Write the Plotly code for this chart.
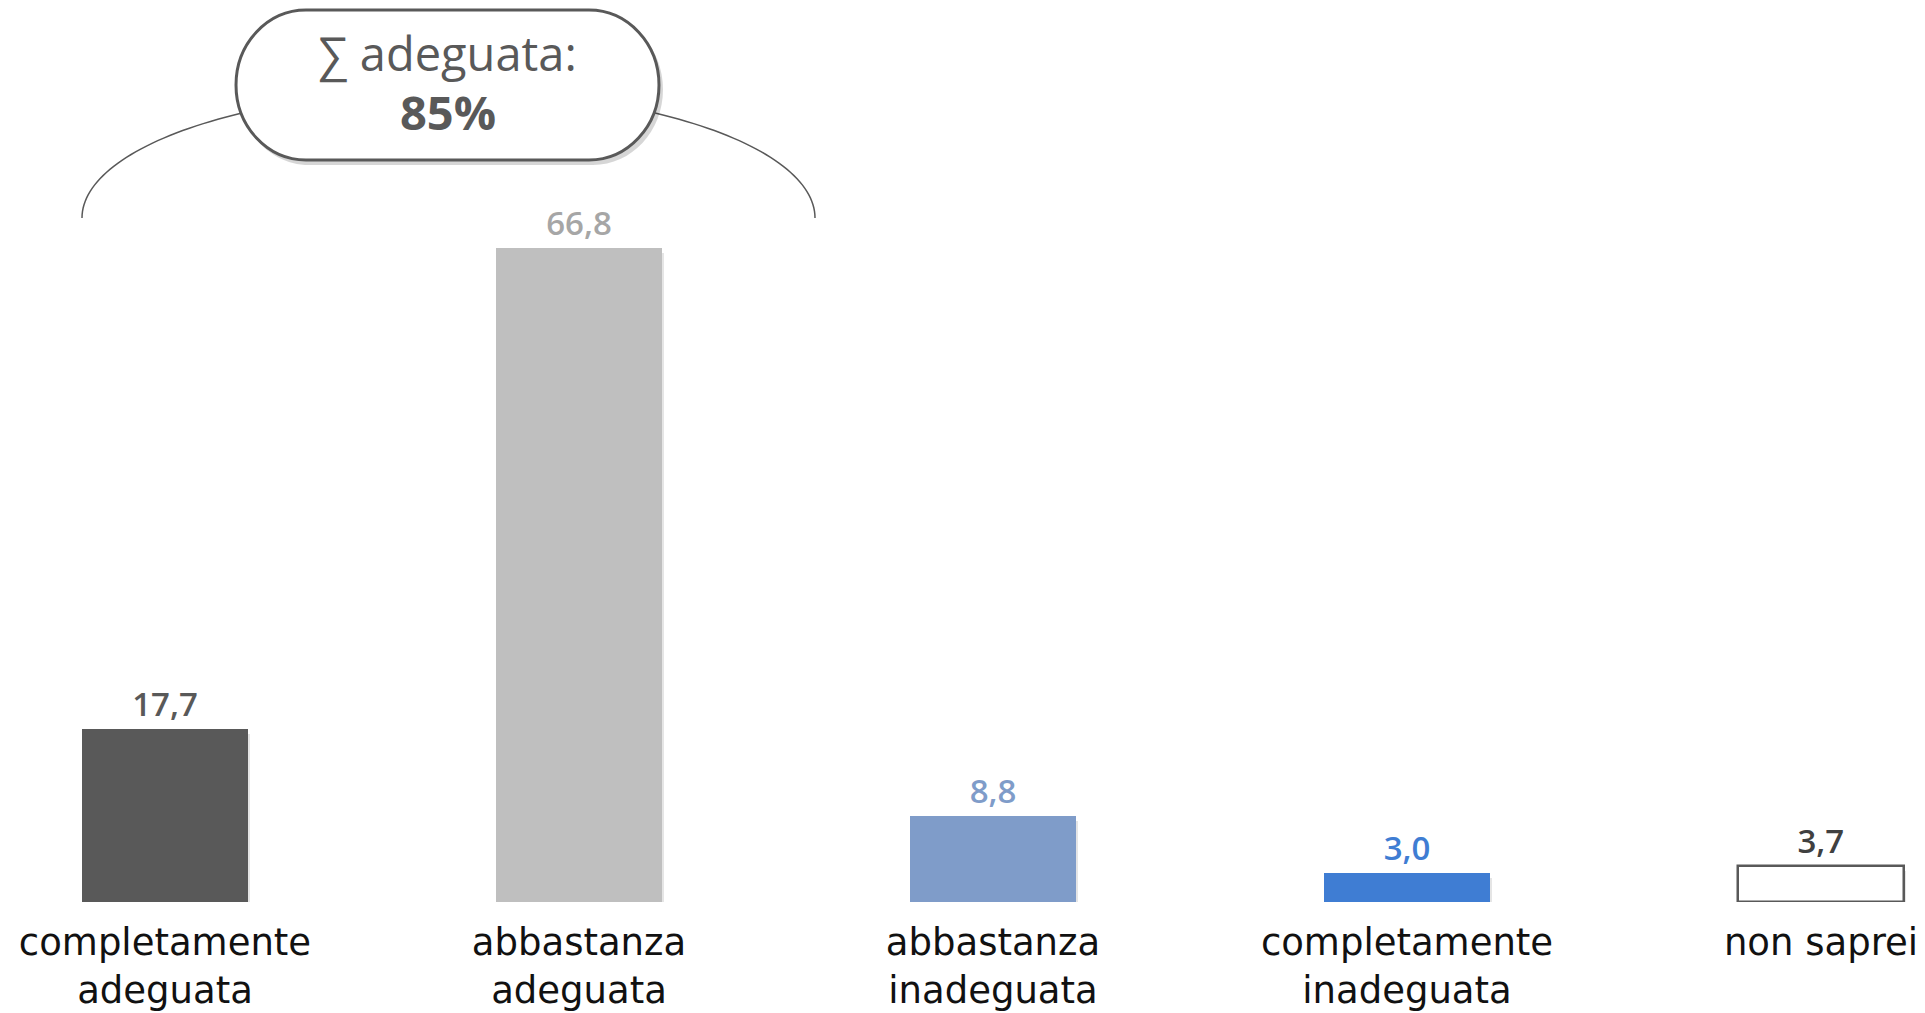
import math
import plotly.graph_objects as go

categories = ["completamente<br>adeguata", "abbastanza<br>adeguata", "abbastanza<br>inadeguata",
              "completamente<br>inadeguata", "non saprei"]
values = [17.7, 66.8, 8.8, 3.0, 3.7]
value_labels = ["17,7", "66,8", "8,8", "3,0", "3,7"]
bar_colors = ["#595959", "#bfbfbf", "#7f9cc9", "#3f7dd3", "#ffffff"]
line_colors = ["#595959", "#bfbfbf", "#7f9cc9", "#3f7dd3", "#595959"]
line_widths = [0, 0, 0, 0, 2.5]
label_colors = ["#595959", "#a6a6a6", "#7f9cc9", "#3f7dd3", "#404040"]
sum_title = "∑ adeguata:"
sum_value = "85%"

OFF = 8  # page body margin
W, H = 1925 - OFF, 1013 - OFF
T, B = 0, 111
PH = H - T - B
xs = list(range(len(categories)))

def px(x):
    return (x - OFF) / W

def py(y):
    return 1 - (y - OFF - T) / PH

fig = go.Figure()
# soft shadow
fig.add_trace(go.Bar(x=xs, y=values, width=0.4, offset=-0.195, base=-0.5,
                     marker=dict(color="rgba(0,0,0,0.10)", line=dict(width=0)),
                     hoverinfo="skip", showlegend=False))
fig.add_trace(go.Bar(
    x=xs, y=values, width=0.4,
    marker=dict(color=bar_colors, line=dict(color=line_colors, width=line_widths)),
    text=value_labels, textposition="outside",
    textfont=dict(family="Open Sans", size=33, color=label_colors, weight=600),
    cliponaxis=False, showlegend=False,
))

shapes = []
# bracket arc (top half of ellipse)
cx, cy, a, b = 448.5, 218, 366.5, 127
pts = []
for i in range(0, 121):
    t = math.pi - math.pi * i / 120
    pts.append((cx + a * math.cos(t), cy - b * math.sin(t)))
path = "M " + " L ".join(f"{px(x):.5f},{py(y):.5f}" for x, y in pts)
shapes.append(dict(type="path", xref="paper", yref="paper", path=path,
                   line=dict(color="#595959", width=1.5)))

def stadium(x0, y0, x1, y1, rx):
    k = 0.5523
    ym = (y0 + y1) / 2
    ry = (y1 - y0) / 2
    segs = [
        f"M {px(x0+rx):.5f},{py(y0):.5f}",
        f"L {px(x1-rx):.5f},{py(y0):.5f}",
        f"C {px(x1-rx+k*rx):.5f},{py(y0):.5f} {px(x1):.5f},{py(ym-k*ry):.5f} {px(x1):.5f},{py(ym):.5f}",
        f"C {px(x1):.5f},{py(ym+k*ry):.5f} {px(x1-rx+k*rx):.5f},{py(y1):.5f} {px(x1-rx):.5f},{py(y1):.5f}",
        f"L {px(x0+rx):.5f},{py(y1):.5f}",
        f"C {px(x0+rx-k*rx):.5f},{py(y1):.5f} {px(x0):.5f},{py(ym+k*ry):.5f} {px(x0):.5f},{py(ym):.5f}",
        f"C {px(x0):.5f},{py(ym-k*ry):.5f} {px(x0+rx-k*rx):.5f},{py(y0):.5f} {px(x0+rx):.5f},{py(y0):.5f} Z",
    ]
    return " ".join(segs)

shapes.append(dict(type="path", xref="paper", yref="paper", path=stadium(239, 14, 663, 165, 70),
                   fillcolor="rgba(0,0,0,0.16)", line=dict(width=0)))
shapes.append(dict(type="path", xref="paper", yref="paper", path=stadium(236, 10, 659, 160, 70),
                   fillcolor="white", line=dict(color="#595959", width=3)))

annotations = [
    dict(xref="paper", yref="paper", x=px(447.5), y=py(53), text=sum_title, showarrow=False,
         font=dict(family="Open Sans", size=47, color="#595959", weight=500),
         xanchor="center", yanchor="middle"),
    dict(xref="paper", yref="paper", x=px(447.5), y=py(112), text=f"<b>{sum_value}</b>", showarrow=False,
         font=dict(family="Open Sans", size=47, color="#595959"), xanchor="center", yanchor="middle"),
]

fig.update_layout(
    width=W, height=H,
    margin=dict(l=0, r=0, t=T, b=B, autoexpand=False),
    paper_bgcolor="white", plot_bgcolor="white",
    barmode="overlay", bargap=0,
    shapes=shapes, annotations=annotations,
    xaxis=dict(range=[-0.3792, 4.2512], tickvals=xs, ticktext=categories,
               tickfont=dict(family="DejaVu Sans", size=37, color="#111111"),
               ticklabelstandoff=15, automargin=False,
               showgrid=False, zeroline=False, showline=False, ticks="", fixedrange=True),
    yaxis=dict(range=[0, 91.32], visible=False, showgrid=False, zeroline=False,
               fixedrange=True, automargin=False),
)

fig.write_html("out.html")
